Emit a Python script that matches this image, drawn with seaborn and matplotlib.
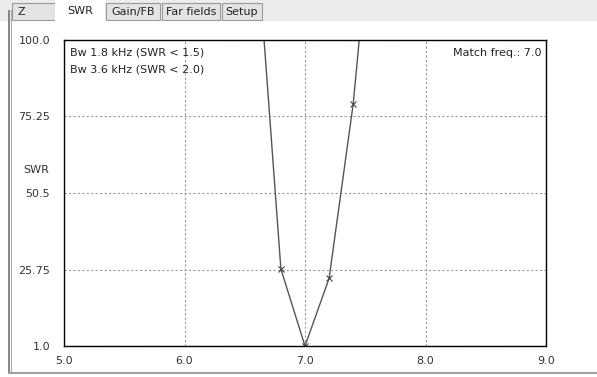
import matplotlib
matplotlib.use("Agg")
import matplotlib.pyplot as plt
from matplotlib.patches import Rectangle
import seaborn as sns
import pandas as pd

# SWR sweep
freq = [6.6, 6.8, 7.0, 7.2, 7.4, 7.6]
swr = [132.0, 25.9, 1.0, 22.9, 79.3, 162.0]
x_ticks = [5.0, 6.0, 7.0, 8.0, 9.0]
y_ticks = [1.0, 25.75, 50.5, 75.25, 100.0]
tabs = ["Z", "SWR", "Gain/FB", "Far fields", "Setup"]
bw_lines = ["Bw 1.8 kHz (SWR < 1.5)", "Bw 3.6 kHz (SWR < 2.0)"]
match_text = "Match freq.: 7.0"

df = pd.DataFrame({"freq": freq, "swr": swr})

sns.set_style("white")
plt.rcParams["font.family"] = ["DejaVu Sans"]

W, H = 597, 377
fig = plt.figure(figsize=(W / 100, H / 100), dpi=100)
fig.patch.set_facecolor("white")

def px(x0, y0, w, h, **kw):
    fig.patches.append(Rectangle((x0 / W, 1 - (y0 + h) / H), w / W, h / H,
                                 transform=fig.transFigure, **kw))

# tab strip
px(0, 0, W, 21, facecolor="#ececec", edgecolor="none")
tab_x = [(12, 55), (55, 105), (106, 160), (162, 220), (222, 262)]
for (a, b), name in zip(tab_x, tabs):
    if name == "SWR":
        px(a, 0, b - a, 22, facecolor="white", edgecolor="none")
        fig.text((a + b) / 2 / W, 1 - 11 / H, name, ha="center", va="center",
                 fontsize=8, color="#222222")
    else:
        px(a, 3, b - a, 17, facecolor="#e4e4e4", edgecolor="#9a9a9a", linewidth=0.8)
        fig.text((a + 5) / W if name == "Z" else (a + b) / 2 / W, 1 - 12 / H, name,
                 ha="left" if name == "Z" else "center", va="center",
                 fontsize=8, color="#222222")

# window frame
px(8, 10, 2, 364, facecolor="#888888", edgecolor="none")
px(11, 10, 1, 364, facecolor="#aaaaaa", edgecolor="none")
px(8, 372, W - 8, 2, facecolor="#a0a0a0", edgecolor="none")

ax = fig.add_axes([64 / W, (H - 346) / H, (546 - 64) / W, (346 - 40) / H])
sns.lineplot(data=df, x="freq", y="swr", ax=ax, color="#555555", linewidth=1.0,
             marker="x", markersize=4, markeredgecolor="#444444",
             markeredgewidth=0.8)

ax.set_xlim(5.0, 9.0)
ax.set_ylim(1.0, 100.0)
ax.set_xticks(x_ticks)
ax.set_yticks(y_ticks)
ax.set_xticklabels([f"{v:.1f}" for v in x_ticks])
ax.set_yticklabels(["1.0", "25.75", "50.5", "75.25", "100.0"])
ax.tick_params(axis="both", length=0, labelsize=8, labelcolor="#333333")
ax.tick_params(axis="x", pad=7)
ax.tick_params(axis="y", pad=10)
ax.set_xlabel("")
ax.set_ylabel("")
ax.grid(True, color="#999999", linestyle=(0, (2, 2)), linewidth=0.8)
for s in ax.spines.values():
    s.set_color("black")
    s.set_linewidth(1.0)

fig.text(36 / W, 1 - 170 / H, "SWR", ha="center", va="center",
         fontsize=8, color="#333333")
ax.text(0.012, 0.975, bw_lines[0], transform=ax.transAxes, ha="left", va="top",
        fontsize=8, color="#222222")
ax.text(0.012, 0.92, bw_lines[1], transform=ax.transAxes, ha="left", va="top",
        fontsize=8, color="#222222")
ax.text(0.99, 0.975, match_text, transform=ax.transAxes, ha="right", va="top",
        fontsize=8, color="#222222")

fig.savefig("out.png", dpi=100)
